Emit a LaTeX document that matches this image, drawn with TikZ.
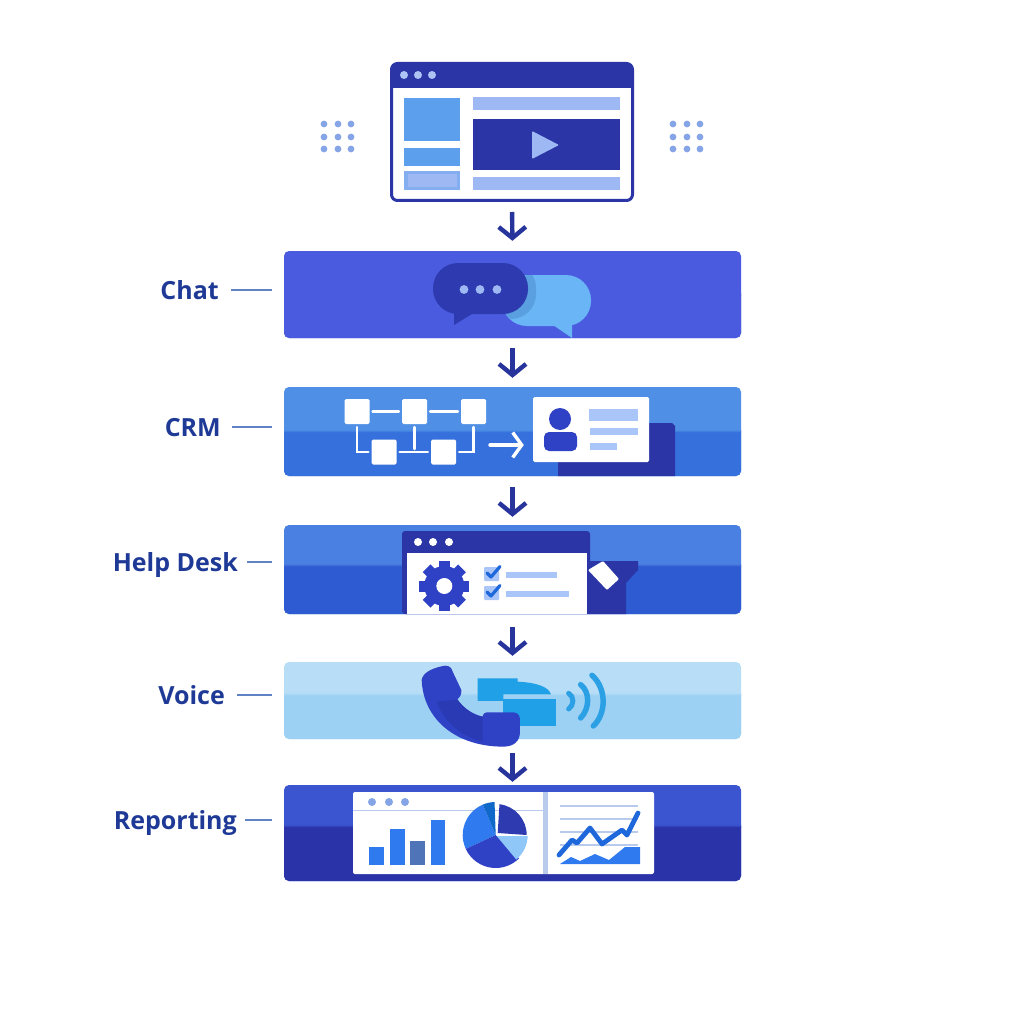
\documentclass[tikz,border=0pt]{standalone}
\usepackage{fontspec}
\setmainfont{Open Sans}
\usetikzlibrary{arrows.meta}
\definecolor{navy}{HTML}{2B35A6}
\definecolor{arrowc}{HTML}{26349C}
\definecolor{labc}{HTML}{1E3A96}
\definecolor{tickc}{HTML}{5F83C4}
\definecolor{pale}{HTML}{9DB8F2}
\definecolor{sky}{HTML}{5C9FEC}
\definecolor{dotc}{HTML}{86A5E6}
\definecolor{chatbar}{HTML}{4B5BE0}
\definecolor{crmtop}{HTML}{4F90E6}
\definecolor{crmbot}{HTML}{3570DC}
\definecolor{helptop}{HTML}{4A80E2}
\definecolor{helpbot}{HTML}{2F5BD2}
\definecolor{voicetop}{HTML}{B7DDF7}
\definecolor{voicebot}{HTML}{9DD1F3}
\definecolor{reptop}{HTML}{3B55D0}
\definecolor{repbot}{HTML}{2A33A8}
\definecolor{bubdark}{HTML}{2E3BB0}
\definecolor{bublight}{HTML}{69B5F5}
\definecolor{bubshade}{HTML}{5A9FE0}
\definecolor{inkblue}{HTML}{2F42C6}
\definecolor{linec}{HTML}{AAC6F8}
\definecolor{chipc}{HTML}{20A0E6}
\definecolor{wavec}{HTML}{2CA0E4}
\definecolor{barblue}{HTML}{2F7AEE}
\definecolor{barslate}{HTML}{4F74B8}
\definecolor{rule}{HTML}{B9CBEC}
\definecolor{piedeep}{HTML}{1068C8}
\definecolor{checkc}{HTML}{1F68DC}
\definecolor{neckc}{HTML}{2A3AB4}
\tikzset{
  x=1pt,y=-1pt,
  flow/.style={draw=arrowc,line width=4.4pt,-{Straight Barb[length=11pt,width=27pt,line width=4.4pt]}},
  lab/.style={font=\fontsize{25}{28}\selectfont\bfseries,text=labc,inner sep=0pt,anchor=east,text height=18pt,text depth=0pt},
  tick/.style={draw=tickc,line width=1.2pt},
  bar/.style n args={4}{rounded corners=5pt,minimum width=457pt,minimum height=#1,inner sep=0pt,fill=#2,
    path picture={\fill[#3] (-300,#4) rectangle (300,100);
      \shade[top color=#2,bottom color=#3] (-300,#4-1.5) rectangle (300,#4+1.5);}},
  fbox/.style={fill=white,rounded corners=1.5pt,minimum size=25pt,inner sep=0pt},
  wire/.style={draw=white,line width=2.8pt,line cap=round,shorten >=3pt,shorten <=3pt},
  dotg/.style={fill=dotc,draw=none},
}
\begin{document}
\begin{tikzpicture}
\useasboundingbox (0,0) rectangle (1024,1024);
\fill[white] (0,0) rectangle (1024,1024);

% --- browser window
\node[draw=navy,line width=3pt,fill=white,rounded corners=6pt,minimum width=241pt,minimum height=137pt,inner sep=0pt,
  path picture={\fill[navy] (-130,-80) rectangle (130,-44);}] (win) at (512,132) {};
\foreach \px in {404,418,432} \fill[pale!85!white] (\px,75) circle[radius=4];
\fill[sky] (404,98) rectangle (460,141);
\fill[sky] (404,148) rectangle (460,166);
\fill[pale!60!sky] (404,171) rectangle (460,190);
\fill[pale] (408,174) rectangle (457,187);
\fill[pale] (473,97) rectangle (620,110);
\fill[navy] (473,119) rectangle (620,170);
\fill[pale,rounded corners=1pt] (532,131) -- (559,145) -- (532,159) -- cycle;
\fill[pale] (473,177) rectangle (620,190);
\foreach \px in {324,338,351,673,687,700}
  \foreach \py in {124,137,149}
    \fill[dotg] (\px,\py) circle[radius=3.4];

% --- stage bars
\node[bar={87pt}{chatbar}{chatbar}{0}] (chat) at (512.5,294.5) {};
\node[bar={89pt}{crmtop}{crmbot}{-0.5}] (crm) at (512.5,431.5) {};
\node[bar={89pt}{helptop}{helpbot}{-4.5}] (help) at (512.5,569.5) {};
\node[bar={77pt}{voicetop}{voicebot}{-6.5}] (voice) at (512.5,700.5) {};
\node[bar={96pt}{reptop}{repbot}{-7}] (rep) at (512.5,833) {};

% --- flow arrows
\draw[flow,shorten <=10pt,shorten >=10pt] (win.south) -- (chat.north);
\draw[flow,shorten <=10pt,shorten >=9pt] (chat.south) -- (crm.north);
\draw[flow,shorten <=11pt,shorten >=8pt] (crm.south) -- (help.north);
\draw[flow,shorten <=13pt,shorten >=6pt] (help.south) -- (voice.north);
\draw[flow,shorten <=14pt,shorten >=3pt] (voice.south) -- (rep.north);

% --- labels
\node[lab] (lchat) at (219,290) {Chat};
\node[lab] (lcrm) at (221,427) {CRM};
\node[lab] (lhelp) at (238,562) {Help Desk};
\node[lab] (lvoice) at (225,695) {Voice};
\node[lab] (lrep) at (237,820) {Reporting};
\draw[tick,shorten <=12pt,shorten >=12pt] (lchat.east) -- (lchat.east -| chat.west);
\draw[tick,shorten <=11pt,shorten >=12pt] (lcrm.east) -- (lcrm.east -| crm.west);
\draw[tick,shorten <=9pt,shorten >=12pt] (lhelp.east) -- (lhelp.east -| help.west);
\draw[tick,shorten <=12pt,shorten >=12pt] (lvoice.east) -- (lvoice.east -| voice.west);
\draw[tick,shorten <=8pt,shorten >=12pt] (lrep.east) -- (lrep.east -| rep.west);

% --- chat icon
\fill[bublight,rounded corners=25pt] (502,275) rectangle (591,326);
\fill[bublight] (553,325) -- (572,338) -- (572,320) -- cycle;
\begin{scope}
  \clip[rounded corners=25pt] (502,275) rectangle (591,326);
  \fill[bubshade,rounded corners=25pt] (441,263) rectangle (536,319);
\end{scope}
\fill[bubdark,rounded corners=25pt] (433,263) rectangle (528,314);
\fill[bubdark] (454,308) -- (454,325) -- (472,314) -- cycle;
\foreach \px in {464,480,497} \fill[pale] (\px,289.5) circle[radius=4.4];

% --- CRM icon
\node[fbox] (s1) at (357,411.5) {};
\node[fbox] (s2) at (414.5,411.5) {};
\node[fbox] (s3) at (473.5,411.5) {};
\node[fbox] (s4) at (384,452) {};
\node[fbox] (s5) at (443.5,452) {};
\draw[wire] (s1) -- (s2);
\draw[wire] (s2) -- (s3);
\draw[wire] (s4) -- (s5);
\draw[wire] (s2.south) -- (s2.south |- s4.east);
\draw[wire] (s1.south) |- (s4.west);
\draw[wire] (s3.south) |- (s5.east);
\fill[navy] (558,476) -- (558,423) -- (672,423) -- (675,426) -- (675,476) -- cycle;
\node[fill=white,rounded corners=1.5pt,minimum width=116pt,minimum height=65pt,inner sep=0pt] (card) at (591,429.5) {};
\coordinate (crma) at (490,445);
\draw[draw=white,line width=3.4pt,line cap=round,-{Straight Barb[length=9pt,width=25pt,line width=3.4pt]},shorten >=9pt] (crma) -- (crma -| card.west);
\fill[inkblue] (560,419) circle[radius=11];
\fill[inkblue,rounded corners=5pt] (544,451) -- (544,432) -- (577,432) -- (577,451) -- cycle;
\fill[linec] (589,409) rectangle (638,421);
\fill[linec] (590,428) rectangle (638,435);
\fill[linec] (590,443) rectangle (617,450);

% --- Help desk icon
\fill[navy,rounded corners=3pt] (402,614) -- (402,531) -- (590,531) -- (590,614) -- cycle;
\fill[navy] (587,561) -- (638,561) -- (638,570) -- (626,583) -- (626,614) -- (587,614) -- cycle;
\fill[white] (407,553) rectangle (587,614);
\foreach \px in {418,433,449} \fill[white] (\px,542) circle[radius=4];
\fill[white,rounded corners=1pt] (588,570) -- (603,561) -- (619,579) -- (607,590) -- cycle;
\fill[inkblue] (444.3,586) circle[radius=20];
\foreach \a in {0,45,...,315}
  \fill[inkblue,rotate around={\a:(444.3,586)}] (438.8,561) rectangle (449.8,570);
\fill[white] (444.3,586) circle[radius=8];
\foreach \py/\lx in {567/557,586/569} {
  \fill[linec,rounded corners=1pt] (484,\py) rectangle (499,\py+14);
  \draw[checkc,line width=3.2pt,line cap=round,line join=round] (487,\py+6) -- (491,\py+10) -- (500,\py-0.5);
  \fill[linec] (506,\py+5) rectangle (\lx,\py+10.5);
}

% --- Voice icon
\begin{scope}[shift={(380,520)},x=0.3333pt,y=-0.3333pt]
  \fill[chipc] (293,475) -- (413,475) -- (413,485) .. controls (470,488) and (505,500) .. (513,523) -- (370,523) -- (370,543) -- (293,543) -- cycle;
  \fill[chipc] (370,537) rectangle (528,617);
  \fill[inkblue] (125,480) .. controls (128,455) and (165,442) .. (195,437) .. controls (210,437) and (215,445) .. (218,455)
     -- (244,510) .. controls (245,525) and (240,530) .. (232,538) .. controls (250,565) and (280,585) .. (308,590)
     .. controls (310,580) and (315,577) .. (325,577) -- (400,577) .. controls (415,578) and (420,588) .. (420,600) -- (420,635)
     .. controls (420,665) and (400,680) .. (370,680) .. controls (230,680) and (130,600) .. (125,480) -- cycle;
  \fill[neckc] (232,538) .. controls (250,565) and (280,585) .. (308,590) -- (308,665) .. controls (240,650) and (190,600) .. (170,545) -- cycle;
  \draw[wavec,line width=5pt,line cap=round] (566,520) .. controls (583,530) and (583,555) .. (566,567);
  \draw[wavec,line width=5.5pt,line cap=round] (602,494) .. controls (630,515) and (630,565) .. (602,594);
  \draw[wavec,line width=5.5pt,line cap=round] (636,466) .. controls (680,505) and (680,580) .. (640,618);
\end{scope}

% --- Reporting icon
\fill[white,rounded corners=2pt] (353,792) rectangle (654,874);
\fill[rule] (543,792) rectangle (548,874);
\fill[rule] (353,809.5) rectangle (543,810.5);
\foreach \px in {372,389,405} \fill[dotc] (\px,802) circle[radius=4];
\fill[barblue] (369,847) rectangle (384,865);
\fill[barblue] (390,829) rectangle (405,865);
\fill[barslate] (410,841) rectangle (425,865);
\fill[barblue] (431,820) rectangle (445,865);
\begin{scope}[shift={(495.7,835)},y=1pt]
  \fill[barblue] (0,0) -- (113:33pt) arc[start angle=113,end angle=205,radius=33pt] -- cycle;
  \fill[piedeep] (0,0) -- (92:33pt) arc[start angle=92,end angle=113,radius=33pt] -- cycle;
  \fill[inkblue] (0,0) -- (205:33pt) arc[start angle=205,end angle=315,radius=33pt] -- cycle;
  \fill[bublight!75!white] (1,-1) -- (-50:32pt) arc[start angle=-50,end angle=-2,radius=32pt] -- cycle;
  \fill[bubdark] (2,2) -- (83:31pt) arc[start angle=83,end angle=0,radius=31pt] -- cycle;
\end{scope}
\foreach \py in {806,819,832,845} \draw[rule,line width=1.2pt] (560,\py) -- (638,\py);
\fill[barblue] (560,864) -- (571,857) -- (580,861) -- (595,854) -- (609,860) -- (625,847) -- (640,847) -- (640,864) -- cycle;
\draw[checkc,line width=4.8pt,line join=round,line cap=round] (559,855) -- (572,840) -- (577,843) -- (590,828) -- (602,844) -- (622,830) -- (627,835) -- (638,813);
\end{tikzpicture}
\end{document}
